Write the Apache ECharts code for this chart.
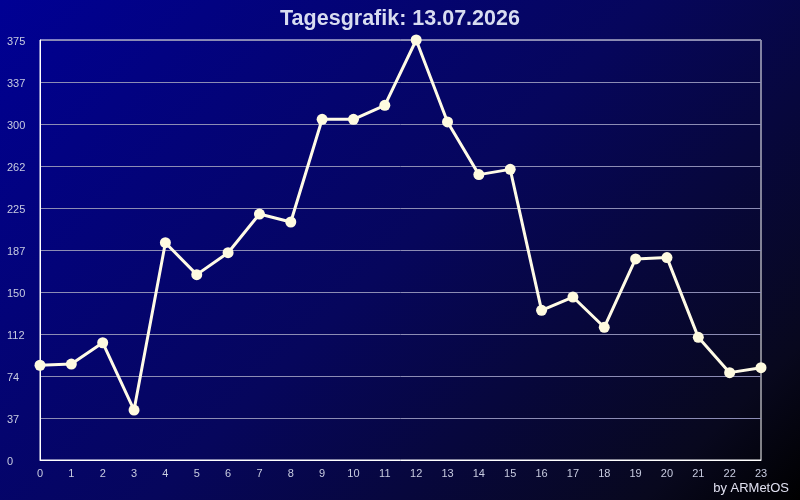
<!DOCTYPE html>
<html>
<head>
<meta charset="utf-8">
<script src="https://cdn.jsdelivr.net/npm/echarts@6/dist/echarts.min.js"></script>
<style>html,body{margin:0;padding:0;background:#000;}#c{width:800px;height:500px;}</style>
</head>
<body>
<div id="c"></div>
<script>
var hours = ['0','1','2','3','4','5','6','7','8','9','10','11','12','13','14','15','16','17','18','19','20','21','22','23'];
var values = [84.6, 85.7, 104.7, 44.6, 194.0, 165.5, 185.1, 219.6, 212.5, 304.2, 304.2, 316.7, 375, 301.8, 254.8, 259.5, 133.6, 145.5, 118.5, 179.5, 180.7, 109.5, 78, 82.4];
var yTickLabels = ['0','37','74','112','150','187','225','262','300','337','375'];
var titleText = 'Tagesgrafik: 13.07.2026';
var creditText = 'by ARMetOS';

var chart = echarts.init(document.getElementById('c'));
chart.setOption({
  animation: false,
  backgroundColor: {
    type: 'linear', x: 0, y: 0, x2: 650, y2: 650, global: true,
    colorStops: [
      {offset: 0, color: '#000094'},
      {offset: 0.5, color: '#06065c'},
      {offset: 0.88, color: '#08081e'},
      {offset: 1, color: '#000000'}
    ]
  },
  title: {
    text: titleText, left: 'center', top: 3,
    textStyle: {color: '#d8dcf0', fontSize: 21.5, fontWeight: 'bold', fontFamily: 'Liberation Sans, Arial, sans-serif'}
  },
  graphic: [{
    type: 'text', right: 11, bottom: 5,
    style: {text: creditText, fill: '#e0e0f0', fontSize: 13, fontFamily: 'Liberation Sans, Arial, sans-serif'}
  }],
  grid: {left: 40, right: 39, top: 40, bottom: 40, show: true, borderColor: '#ffffff', borderWidth: 1, backgroundColor: 'transparent'},
  xAxis: {
    type: 'category', data: hours, boundaryGap: false,
    axisLine: {lineStyle: {color: '#ffffff', width: 1}},
    axisTick: {show: false},
    axisLabel: {color: '#c8cce0', fontSize: 11, margin: 8, fontFamily: 'Liberation Sans, Arial, sans-serif', interval: 0},
    splitLine: {show: false}
  },
  yAxis: {
    type: 'value', min: 0, max: 375, interval: 37.5,
    axisLine: {show: true, lineStyle: {color: '#ffffff', width: 1}},
    axisTick: {show: false},
    axisLabel: {
      color: '#c8cce0', fontSize: 11, margin: 33, align: 'left',
      fontFamily: 'Liberation Sans, Arial, sans-serif',
      formatter: function (v) { return '{a|' + yTickLabels[Math.round(v / 37.5)] + '}'; },
      rich: {a: {color: '#c8cce0', fontSize: 11, fontFamily: 'Liberation Sans, Arial, sans-serif', padding: [4, 0, 0, 0]}}
    },
    splitLine: {show: true, lineStyle: {color: '#8c8cb4', width: 1}}
  },
  series: [{
    type: 'line', data: values,
    symbol: 'circle', symbolSize: 11,
    lineStyle: {color: '#fffbe6', width: 3},
    itemStyle: {color: '#fffbe0', borderWidth: 0},
    z: 5
  }]
});
</script>
</body>
</html>
